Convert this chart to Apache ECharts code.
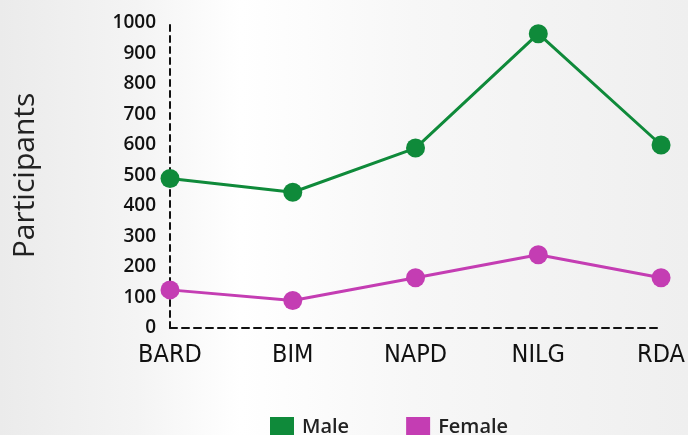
<!DOCTYPE html>
<html><head><meta charset="utf-8">
<script src="https://cdn.jsdelivr.net/npm/echarts@6/dist/echarts.min.js"></script>
<style>html,body{margin:0;padding:0;background:#fff}#c{width:688px;height:435px}</style>
</head><body><div id="c"></div>
<script>
const categories = ['BARD', 'BIM', 'NAPD', 'NILG', 'RDA'];
const maleValues = [490, 445, 590, 965, 600];
const femaleValues = [125, 90, 165, 240, 165];
const yTicks = [0, 100, 200, 300, 400, 500, 600, 700, 800, 900, 1000];

const chart = echarts.init(document.getElementById('c'));
chart.setOption({
  backgroundColor: new echarts.graphic.LinearGradient(0, 0, 1, 0, [
    { offset: 0, color: '#ebebeb' },
    { offset: 0.2, color: '#f4f4f4' },
    { offset: 0.35, color: '#ffffff' },
    { offset: 0.6, color: '#f7f7f7' },
    { offset: 1, color: '#efefef' }
  ]),
  animation: false,
  grid: { left: 170, right: 25, top: 23, bottom: 107 },
  legend: {
    top: 412, left: 265, itemWidth: 24, itemHeight: 20, itemGap: 57,
    icon: 'rect',
    textStyle: { fontFamily: 'Open Sans', fontSize: 20, fontWeight: 600, color: '#222', padding: [0, 0, 0, 3] },
    data: ['Male', 'Female']
  },
  xAxis: {
    type: 'category', data: categories, boundaryGap: false,
    axisLine: { lineStyle: { color: '#111', width: 2, type: [7, 5] } },
    axisTick: { show: false },
    axisLabel: { margin: 15, fontFamily: 'Liberation Sans Narrow, DejaVu Sans Condensed, sans-serif', fontSize: 25, color: '#111' }
  },
  yAxis: {
    type: 'value', min: 0, max: 1000, interval: 100,
    name: 'Participants', nameLocation: 'middle', nameGap: 130,
    nameTextStyle: { fontFamily: 'Open Sans', fontSize: 30, color: '#222' },
    axisLine: { show: true, lineStyle: { color: '#111', width: 2, type: [6, 5] } },
    axisTick: { show: false },
    splitLine: { show: false },
    axisLabel: { margin: 14, fontFamily: 'Open Sans', fontSize: 19, fontWeight: 600, color: '#111',
      formatter: v => yTicks.includes(v) ? String(v) : '' }
  },
  series: [
    { name: 'Male', type: 'line', data: maleValues, symbol: 'circle', symbolSize: 19,
      itemStyle: { color: '#0f8a3a' }, lineStyle: { width: 3, color: '#0f8a3a' } },
    { name: 'Female', type: 'line', data: femaleValues, symbol: 'circle', symbolSize: 19,
      itemStyle: { color: '#c43db3' }, lineStyle: { width: 3, color: '#c43db3' } }
  ]
});
</script></body></html>
